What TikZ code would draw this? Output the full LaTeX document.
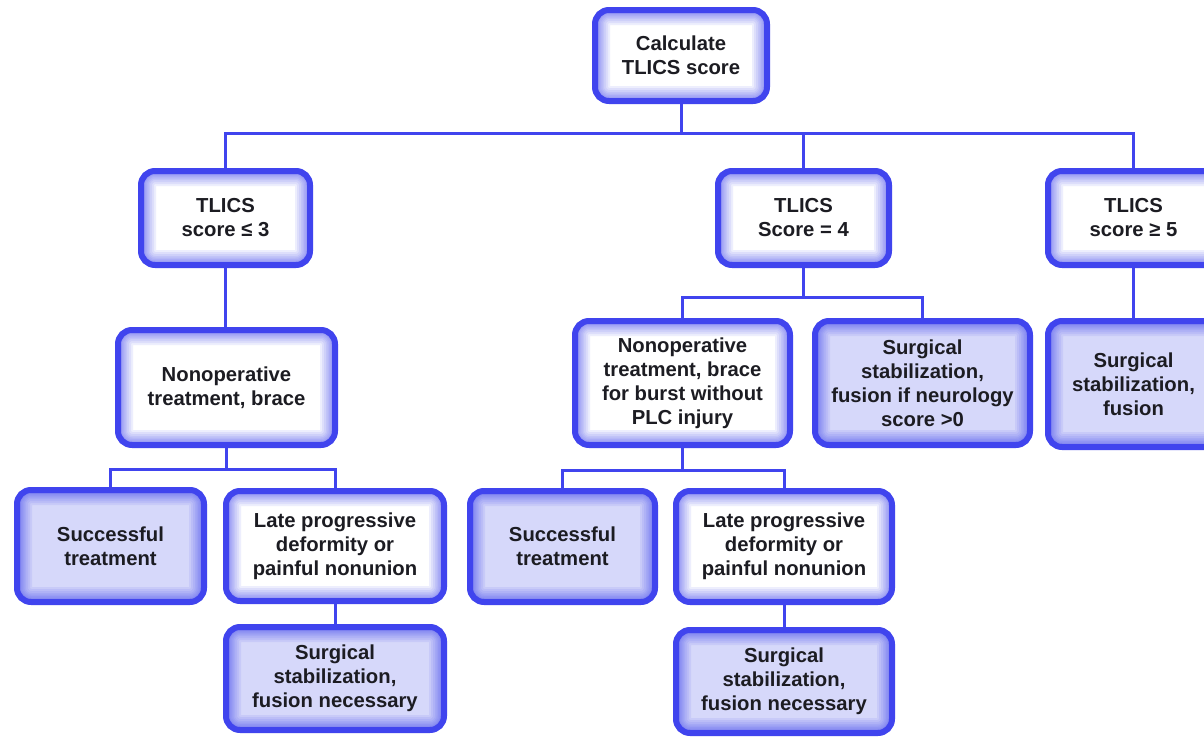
\documentclass[tikz,border=0pt]{standalone}
\usepackage{fontspec}
\setmainfont{Liberation Sans}

\definecolor{boxblue}{RGB}{64,68,238}
\definecolor{shadefill}{RGB}{214,216,250}
\definecolor{textgray}{RGB}{28,28,34}

\tikzset{every picture/.style={line width=0.75pt}}
\tikzset{
  glow/.style={path picture={
      \foreach \gw in {30,26,22,18,15,12,9,7}
        \draw[boxblue, draw opacity=0.09, line width=\gw*0.75pt, rounded corners=10.5pt]
          (path picture bounding box.south west) rectangle (path picture bounding box.north east);}},
  plainbox/.style={draw=boxblue, line width=4.5pt, rounded corners=10.5pt, fill=white, glow,
      align=center, inner sep=0pt, text=textgray, font=\fontsize{15.2}{18}\selectfont\bfseries},
  shadebox/.style={plainbox, fill=shadefill},
  boxsize/.style 2 args={minimum width=#1*0.75pt, minimum height=#2*0.75pt},
  link/.style={draw=boxblue, line width=2.25pt},
}

\begin{document}
\begin{tikzpicture}[x=0.75pt,y=0.75pt,yscale=-1,xscale=1]
\path[use as bounding box, fill=white] (0,0) rectangle (1204,739);

% Text Node
\node[plainbox, boxsize={172}{91}] (calc) at (681,55.5) {Calculate\\TLICS score};
% Text Node
\node[plainbox, boxsize={169}{94}] (low) at (225.5,218) {TLICS\\score ≤ 3};
% Text Node
\node[plainbox, boxsize={171}{94}] (mid) at (803.5,218) {TLICS\\Score = 4};
% Text Node
\node[plainbox, boxsize={171}{94}] (high) at (1133.5,218) {TLICS\\score ≥ 5};

% Text Node
\node[plainbox, boxsize={217}{115}] (nonop) at (226.5,387.5) {Nonoperative\\treatment, brace};
% Text Node
\node[plainbox, boxsize={215}{124}] (nonopplc) at (682.5,383) {Nonoperative\\treatment, brace\\for burst without\\PLC injury};
% Text Node
\node[shadebox, boxsize={215}{124}] (surgneuro) at (922.5,383) {Surgical\\stabilization,\\fusion if neurology\\score >0};
% Text Node
\node[shadebox, boxsize={171}{126}] (surghigh) at (1133.5,384) {Surgical\\stabilization,\\fusion};

% Text Node
\node[shadebox, boxsize={187}{112}] (succlow) at (110.5,546) {Successful\\treatment};
% Text Node
\node[plainbox, boxsize={218}{110}] (latelow) at (335,546) {Late progressive\\deformity or\\painful nonunion};
% Text Node
\node[shadebox, boxsize={218}{103}] (fuslow) at (335,678.5) {Surgical\\stabilization,\\fusion necessary};
% Text Node
\node[shadebox, boxsize={185}{111}] (succmid) at (562.5,546.5) {Successful\\treatment};
% Text Node
\node[plainbox, boxsize={216}{111}] (latemid) at (784,546.5) {Late progressive\\deformity or\\painful nonunion};
% Text Node
\node[shadebox, boxsize={216}{103}] (fusmid) at (784,681.5) {Surgical\\stabilization,\\fusion necessary};

%Straight Lines
\coordinate (busA) at (681,133);
\draw[link] (calc.south) -- (busA);
\draw[link] (low.north) |- (busA) -| (high.north);
\draw[link] (busA -| mid.north) -- (mid.north);
%Straight Lines
\draw[link] (low.south) -- (low.south |- nonop.north);
\draw[link] (high.south) -- (surghigh.north);
%Straight Lines
\coordinate (busB) at (803.5,297);
\draw[link] (mid.south) -- (busB);
\draw[link] (nonopplc.north) |- (busB) -| (surgneuro.north);
%Straight Lines
\coordinate (busC) at (226.5,469);
\draw[link] (nonop.south) -- (busC);
\draw[link] (succlow.north) |- (busC) -| (latelow.north);
\draw[link] (latelow) -- (fuslow);
%Straight Lines
\coordinate (busD) at (682.5,470);
\draw[link] (nonopplc.south) -- (busD);
\draw[link] (succmid.north) |- (busD) -| (latemid.north);
\draw[link] (latemid) -- (fusmid);

\end{tikzpicture}
\end{document}
